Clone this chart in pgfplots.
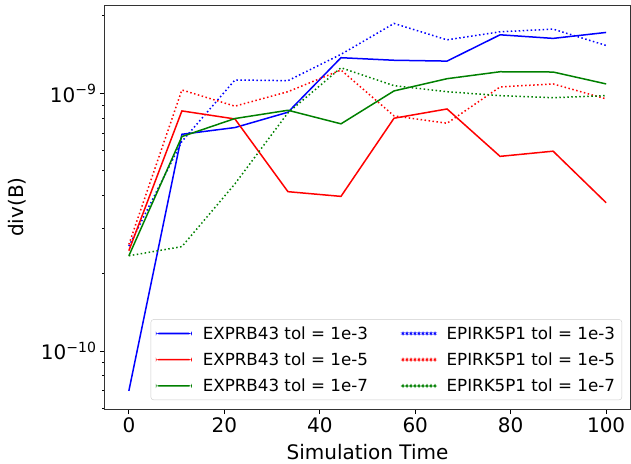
\documentclass[border=0pt]{standalone}
\usepackage{pgfplots}
\pgfplotsset{compat=1.18}
\usepackage{fontspec}
\setmainfont{DejaVu Sans}
\newcommand\bigf{\fontsize{20bp}{24bp}\selectfont}
\newcommand\legf{\fontsize{16.7bp}{20bp}\selectfont}
\definecolor{mplgreen}{RGB}{0,128,0}
\pgfplotsset{
  solidleg/.style={legend image code/.code={\fill[draw=none, fill=#1] (0bp,-0.8bp) rectangle (36bp,0.8bp);}},
  dotleg/.style={legend image code/.code={\foreach \i in {0,4,...,32}{\fill[draw=none, fill=#1] (\i bp,-0.8bp) rectangle ++(1.6bp,1.6bp);}}},
}
\begin{document}
\begin{tikzpicture}
\begin{axis}[
  at={(0,0)}, anchor=south west,
  scale only axis, width=525bp, height=404bp,
  ymode=log, xmin=-5, xmax=105, ymin=5.95e-11, ymax=2.2e-9,
  xtick={0,20,40,60,80,100},
  ytick={1e-10,1e-9},
  yticklabels={10\textsuperscript{−10},10\textsuperscript{−9}},
  minor ytick={6e-11,7e-11,8e-11,9e-11,2e-10,3e-10,4e-10,5e-10,6e-10,7e-10,8e-10,9e-10,2e-9},
  /pgf/number format/assume math mode=true,
  tick align=outside, xtick pos=bottom, ytick pos=left,
  major tick length=5bp, minor tick length=2.8bp,
  every tick/.style={black, line width=0.8bp},
  axis line style={line width=1bp, black!80},
  ticklabel style={font=\bigf},
  xlabel={Simulation Time}, ylabel={div(B)},
  label style={font=\bigf},
  xlabel style={yshift=-5bp},
  ylabel style={yshift=8bp},
  legend columns=2,
  legend cell align=left,
  legend style={at={(0.985,0.022)}, anchor=south east, draw=black!20, rounded corners=3bp,
    fill=white, font=\legf, row sep=8bp, inner sep=5bp,
    /tikz/every odd column/.append style={column sep=9bp},
    /tikz/every even column/.append style={column sep=32bp}},
]
% EXPRB43 tol = 1e-3
\addplot[blue, line width=1.5bp, solidleg=blue] coordinates {
(0,7.0e-11) (11.111,6.93e-10) (22.222,7.36e-10) (33.333,8.44e-10) (44.444,1.374e-9)
(55.556,1.343e-9) (66.667,1.333e-9) (77.778,1.686e-9) (88.889,1.633e-9) (100,1.722e-9)};
\addlegendentry{EXPRB43 tol = 1e-3}
% EPIRK5P1 tol = 1e-3
\addplot[blue, line width=1.5bp, dash pattern=on 1.5bp off 2.5bp, dotleg=blue] coordinates {
(0,2.55e-10) (11.111,6.5e-10) (22.222,1.126e-9) (33.333,1.119e-9) (44.444,1.416e-9)
(55.556,1.866e-9) (66.667,1.612e-9) (77.778,1.732e-9) (88.889,1.774e-9) (100,1.533e-9)};
\addlegendentry{EPIRK5P1 tol = 1e-3}
% EXPRB43 tol = 1e-5
\addplot[red, line width=1.5bp, solidleg=red] coordinates {
(0,2.45e-10) (11.111,8.54e-10) (22.222,7.95e-10) (33.333,4.15e-10) (44.444,3.98e-10)
(55.556,8.0e-10) (66.667,8.69e-10) (77.778,5.69e-10) (88.889,5.96e-10) (100,3.76e-10)};
\addlegendentry{EXPRB43 tol = 1e-5}
% EPIRK5P1 tol = 1e-5
\addplot[red, line width=1.5bp, dash pattern=on 1.5bp off 2.5bp, dotleg=red] coordinates {
(0,2.59e-10) (11.111,1.030e-9) (22.222,8.91e-10) (33.333,1.014e-9) (44.444,1.231e-9)
(55.556,8.17e-10) (66.667,7.65e-10) (77.778,1.058e-9) (88.889,1.087e-9) (100,9.51e-10)};
\addlegendentry{EPIRK5P1 tol = 1e-5}
% EXPRB43 tol = 1e-7
\addplot[mplgreen, line width=1.5bp, solidleg=mplgreen] coordinates {
(0,2.34e-10) (11.111,6.79e-10) (22.222,7.98e-10) (33.333,8.59e-10) (44.444,7.61e-10)
(55.556,1.021e-9) (66.667,1.139e-9) (77.778,1.212e-9) (88.889,1.209e-9) (100,1.087e-9)};
\addlegendentry{EXPRB43 tol = 1e-7}
% EPIRK5P1 tol = 1e-7
\addplot[mplgreen, line width=1.5bp, dash pattern=on 1.5bp off 2.5bp, dotleg=mplgreen] coordinates {
(0,2.34e-10) (11.111,2.54e-10) (22.222,4.45e-10) (33.333,8.4e-10) (44.444,1.256e-9)
(55.556,1.07e-9) (66.667,1.014e-9) (77.778,9.79e-10) (88.889,9.61e-10) (100,9.79e-10)};
\addlegendentry{EPIRK5P1 tol = 1e-7}
\end{axis}
\pgfresetboundingbox
\path[use as bounding box] (-105bp,-55bp) rectangle (526bp,409bp);
\end{tikzpicture}
\end{document}
